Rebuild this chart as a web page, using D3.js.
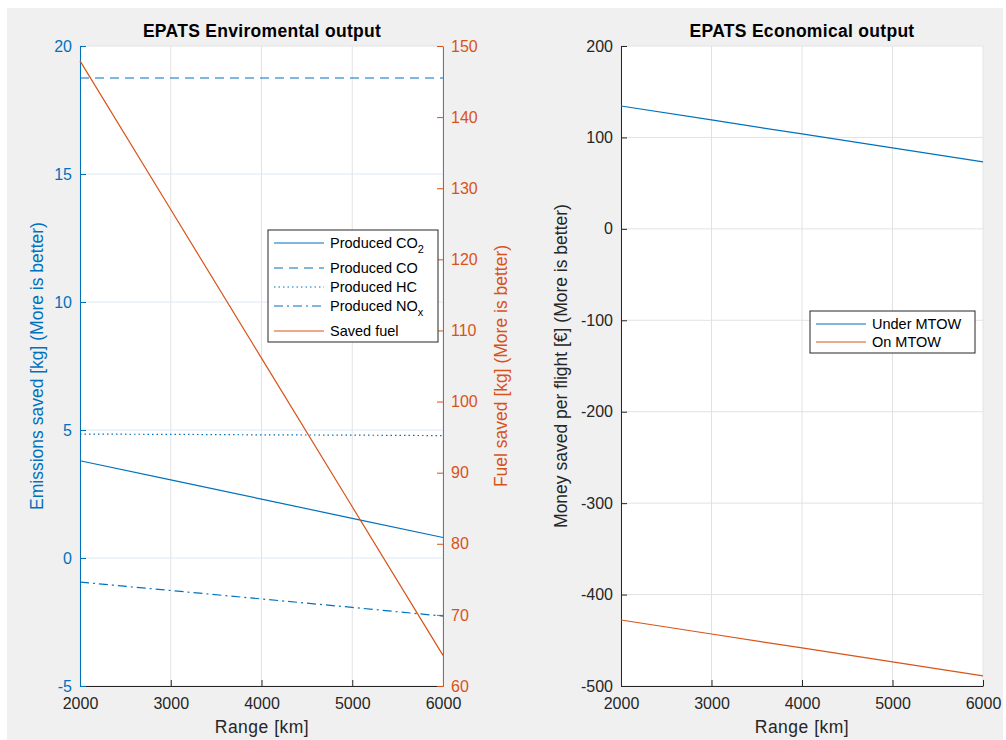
<!DOCTYPE html>
<html>
<head>
<meta charset="utf-8">
<script src="https://cdnjs.cloudflare.com/ajax/libs/d3/7.8.5/d3.min.js"></script>
<style>
  body { margin: 0; background: #fff; }
  text { font-family: "Liberation Sans", Arial, sans-serif; }
</style>
</head>
<body>
<div id="chart"></div>
<script>
// data
const ranges = [2000, 3000, 4000, 5000, 6000];
const co2 = [3.8, 3.05, 2.3, 1.55, 0.8];
const co = [18.75, 18.75, 18.75, 18.75, 18.75];
const hc = [4.84, 4.83, 4.81, 4.8, 4.78];
const nox = [-0.94, -1.27, -1.6, -1.93, -2.27];
const fuel = [147.9, 127.0, 106.1, 85.2, 64.3];
const underMtow = [134.4, 119.1, 103.8, 88.5, 73.2];
const onMtow = [-427.8, -443.1, -458.4, -473.7, -489.0];

const emisTicks = [-5, 0, 5, 10, 15, 20];
const fuelTicks = [60, 70, 80, 90, 100, 110, 120, 130, 140, 150];
const moneyTicks = [-500, -400, -300, -200, -100, 0, 100, 200];

const blue = "#0072bd", orange = "#d95319", dark = "#262626";
const plain = d => String(d); // matlab style, plain hyphen minus

var svg = d3.select("#chart").append("svg")
  .attr("width", 1006)
  .attr("height", 740);

svg.append("rect")
  .attr("x", 7).attr("y", 8).attr("width", 996).attr("height", 732)
  .attr("fill", "#f0f0f0");

// setup panels
var plotTop = 46, plotBottom = 686;
var x1 = d3.scaleLinear().domain([2000, 6000]).range([80, 443]);
var x2 = d3.scaleLinear().domain([2000, 6000]).range([621, 983]);
var yEmis = d3.scaleLinear().domain([-5, 20]).range([plotBottom, plotTop]);
var yFuel = d3.scaleLinear().domain([60, 150]).range([plotBottom, plotTop]);
var yMoney = d3.scaleLinear().domain([-500, 200]).range([plotBottom, plotTop]);

function panel(x) {
  svg.append("rect")
    .attr("x", x.range()[0]).attr("y", plotTop)
    .attr("width", x.range()[1] - x.range()[0]).attr("height", plotBottom - plotTop)
    .attr("fill", "#fff").attr("stroke", "#e3e3e3");
  // vertical grid
  svg.append("g").selectAll("line")
    .data(ranges.slice(1, -1))
    .enter().append("line")
      .attr("x1", d => x(d)).attr("x2", d => x(d))
      .attr("y1", plotTop).attr("y2", plotBottom)
      .attr("stroke", "#e2e2e2");
}
panel(x1);
panel(x2);

// horizontal grid
svg.append("g").selectAll("line")
  .data(emisTicks.slice(1, -1))
  .enter().append("line")
    .attr("x1", 80).attr("x2", 443)
    .attr("y1", d => yEmis(d)).attr("y2", d => yEmis(d))
    .attr("stroke", "#dbe8f4");
svg.append("g").selectAll("line")
  .data(moneyTicks.slice(1, -1))
  .enter().append("line")
    .attr("x1", 621).attr("x2", 983)
    .attr("y1", d => yMoney(d)).attr("y2", d => yMoney(d))
    .attr("stroke", "#e2e2e2");

function axisStyle(g, color) {
  g.selectAll("path").attr("stroke", color);
  g.selectAll("line").attr("stroke", color);
  g.selectAll("text").attr("fill", color).style("font-size", "16px")
    .style("font-family", "'Liberation Sans', Arial, sans-serif");
}

// left panel axes
svg.append("g")
  .attr("transform", "translate(0," + plotBottom + ")")
  .call(d3.axisBottom(x1).tickValues(ranges).tickFormat(plain).tickSizeInner(-6).tickSizeOuter(0).tickPadding(12))
  .call(g => axisStyle(g, dark));
svg.append("g")
  .attr("transform", "translate(80,0)")
  .call(d3.axisLeft(yEmis).tickValues(emisTicks).tickFormat(plain).tickSizeInner(-6).tickSizeOuter(0).tickPadding(8))
  .call(g => axisStyle(g, blue));
svg.append("g")
  .attr("transform", "translate(443,0)")
  .call(d3.axisRight(yFuel).tickValues(fuelTicks).tickFormat(plain).tickSizeInner(-6).tickSizeOuter(0).tickPadding(8))
  .call(g => axisStyle(g, orange));

// right panel axes
svg.append("g")
  .attr("transform", "translate(0," + plotBottom + ")")
  .call(d3.axisBottom(x2).tickValues(ranges).tickFormat(plain).tickSizeInner(-6).tickSizeOuter(0).tickPadding(12))
  .call(g => axisStyle(g, dark));
svg.append("g")
  .attr("transform", "translate(621,0)")
  .call(d3.axisLeft(yMoney).tickValues(moneyTicks).tickFormat(plain).tickSizeInner(-6).tickSizeOuter(0).tickPadding(8))
  .call(g => axisStyle(g, dark));

// lines
var emisSeries = [
  {values: co2, dash: null},
  {values: co, dash: "9,6"},
  {values: hc, dash: "1.5,3"},
  {values: nox, dash: "9,4,2,4"}
];
emisSeries.forEach(function(s) {
  svg.append("path")
    .datum(s.values)
    .attr("fill", "none")
    .attr("stroke", blue)
    .attr("stroke-width", 1.2)
    .attr("stroke-dasharray", s.dash)
    .attr("d", d3.line().x((d, i) => x1(ranges[i])).y(d => yEmis(d)));
});
svg.append("path")
  .datum(fuel)
  .attr("fill", "none").attr("stroke", orange).attr("stroke-width", 1.2)
  .attr("d", d3.line().x((d, i) => x1(ranges[i])).y(d => yFuel(d)));

[{values: underMtow, color: blue}, {values: onMtow, color: orange}].forEach(function(s) {
  svg.append("path")
    .datum(s.values)
    .attr("fill", "none").attr("stroke", s.color).attr("stroke-width", 1.2)
    .attr("d", d3.line().x((d, i) => x2(ranges[i])).y(d => yMoney(d)));
});

// titles and labels
svg.append("text").attr("x", 262).attr("y", 37).attr("text-anchor", "middle")
  .style("font-size", "17.5px").style("font-weight", "bold").attr("fill", "#000")
  .style("letter-spacing", "0.3px")
  .text("EPATS Enviromental output");
svg.append("text").attr("x", 802).attr("y", 37).attr("text-anchor", "middle")
  .style("font-size", "17.5px").style("font-weight", "bold").attr("fill", "#000")
  .style("letter-spacing", "0.3px")
  .text("EPATS Economical output");

svg.append("text").attr("x", 262).attr("y", 733).attr("text-anchor", "middle")
  .style("font-size", "17.5px").style("letter-spacing", "0.5px").attr("fill", dark).text("Range [km]");
svg.append("text").attr("x", 802).attr("y", 733).attr("text-anchor", "middle")
  .style("font-size", "17.5px").style("letter-spacing", "0.5px").attr("fill", dark).text("Range [km]");

svg.append("text").attr("transform", "translate(43,366) rotate(-90)").attr("text-anchor", "middle")
  .style("font-size", "17.5px").attr("fill", blue).text("Emissions saved [kg] (More is better)");
svg.append("text").attr("transform", "translate(507,366) rotate(-90)").attr("text-anchor", "middle")
  .style("font-size", "17.5px").attr("fill", orange).text("Fuel saved [kg] (More is better)");
svg.append("text").attr("transform", "translate(567,366) rotate(-90)").attr("text-anchor", "middle")
  .style("font-size", "17.5px").attr("fill", dark).text("Money saved per flight [€] (More is better)");

// legends
function legend(x, y, w, h, items) {
  var g = svg.append("g").attr("transform", "translate(" + x + "," + y + ")");
  g.append("rect").attr("width", w).attr("height", h)
    .attr("fill", "#fff").attr("stroke", "#262626");
  items.forEach(function(it) {
    g.append("line")
      .attr("x1", 6).attr("x2", 56).attr("y1", it.y).attr("y2", it.y)
      .attr("stroke", it.color).attr("stroke-width", 1.2)
      .attr("stroke-dasharray", it.dash);
    var t = g.append("text").attr("x", 62).attr("y", it.y + 5)
      .style("font-size", "14.5px").attr("fill", "#000").text(it.label);
    if (it.sub) {
      t.append("tspan").attr("dy", 5).style("font-size", "11px").text(it.sub);
    }
  });
}
legend(268, 230, 170, 112, [
  {label: "Produced CO", sub: "2", color: blue, dash: null, y: 13},
  {label: "Produced CO", color: blue, dash: "9,6", y: 38},
  {label: "Produced HC", color: blue, dash: "1.5,3", y: 57},
  {label: "Produced NO", sub: "x", color: blue, dash: "9,4,2,4", y: 76},
  {label: "Saved fuel", color: orange, dash: null, y: 101}
]);
legend(810, 311, 165, 42, [
  {label: "Under MTOW", color: blue, dash: null, y: 13},
  {label: "On MTOW", color: orange, dash: null, y: 31}
]);
</script>
</body>
</html>
